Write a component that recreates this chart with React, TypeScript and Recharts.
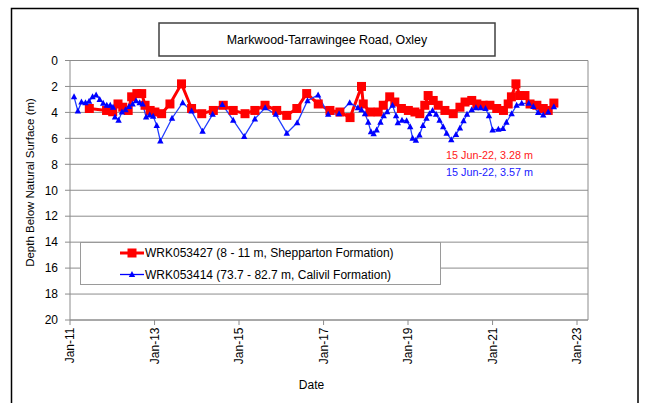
import React from 'react';
import { LineChart, Line, XAxis, YAxis, CartesianGrid, Legend, ReferenceLine } from 'recharts';

const ts = (s: string) => Date.parse(s + 'T00:00:00Z');

const chartTitle = 'Markwood-Tarrawingee Road, Oxley';
const redName = 'WRK053427 (8 - 11 m, Shepparton Formation)';
const blueName = 'WRK053414 (73.7 - 82.7 m, Calivil Formation)';
const redNote = '15 Jun-22, 3.28 m';
const blueNote = '15 Jun-22, 3.57 m';

const redDates = [
  '2011-06-17', '2011-11-13', '2012-01-05', '2012-02-20', '2012-04-01', '2012-05-18', '2012-06-17',
  '2012-08-01', '2012-09-12', '2012-10-11', '2012-11-24', '2013-01-04', '2013-03-03', '2013-05-14',
  '2013-08-22', '2013-11-17', '2014-02-13', '2014-05-24', '2014-08-18', '2014-11-12', '2015-02-22',
  '2015-05-18', '2015-08-14', '2015-11-23', '2016-02-18', '2016-05-15', '2016-08-08', '2016-11-16',
  '2017-02-25', '2017-05-22', '2017-08-18', '2017-11-25', '2017-12-10', '2018-02-06', '2018-04-18',
  '2018-06-01', '2018-07-27', '2018-09-09', '2018-11-05', '2019-01-04', '2019-03-02', '2019-04-13',
  '2019-05-26', '2019-06-24', '2019-08-07', '2019-09-19', '2019-11-16', '2020-01-27', '2020-03-25',
  '2020-05-08', '2020-07-05', '2020-08-18', '2020-10-12', '2020-12-09', '2021-02-06', '2021-04-05',
  '2021-05-16', '2021-06-13', '2021-07-22', '2021-08-25', '2021-10-08', '2021-11-21', '2022-01-19',
  '2022-03-15', '2022-04-27', '2022-06-15',
];
const redDepths = [
  3.7, 3.85, 3.95, 3.35, 3.6, 3.85, 2.8,
  2.55, 2.55, 3.45, 3.85, 3.97, 4.1, 3.35,
  1.8, 3.7, 4.1, 3.85, 3.45, 3.85, 4.1,
  3.85, 3.45, 3.85, 4.23, 3.7, 2.55, 3.35,
  3.85, 3.97, 4.4, 2.0, 3.35, 3.97, 3.97,
  3.45, 2.8, 3.2, 3.7, 3.85, 3.97, 4.1,
  3.45, 2.7, 3.08, 3.45, 3.85, 4.1, 3.6,
  3.2, 3.08, 3.35, 3.45, 3.45, 3.7, 3.85,
  3.35, 2.8, 1.8, 2.7, 2.7, 3.35, 3.45,
  3.7, 3.85, 3.28,
];

const blueDates = [
  '2011-02-05', '2011-03-10', '2011-04-10', '2011-05-15', '2011-06-15', '2011-07-15', '2011-08-15',
  '2011-09-15', '2011-10-15', '2011-11-15', '2011-12-15', '2012-01-08', '2012-01-25', '2012-02-25',
  '2012-03-25', '2012-04-25', '2012-05-25', '2012-06-25', '2012-07-25', '2012-08-25', '2012-09-20',
  '2012-10-20', '2012-11-20', '2012-12-20', '2013-01-20', '2013-02-20', '2013-06-01', '2013-09-01',
  '2013-11-17', '2014-02-20', '2014-05-18', '2014-08-10', '2014-11-12', '2015-02-15', '2015-05-18',
  '2015-08-15', '2015-11-15', '2016-02-18', '2016-05-18', '2016-08-15', '2016-11-15', '2017-02-10',
  '2017-05-15', '2017-08-15', '2017-10-25', '2017-11-25', '2017-12-25', '2018-01-22', '2018-02-15',
  '2018-03-10', '2018-04-05', '2018-05-08', '2018-06-05', '2018-07-05', '2018-08-20', '2018-09-20',
  '2018-10-05', '2018-11-10', '2018-12-20', '2019-01-20', '2019-02-10', '2019-03-10', '2019-04-10',
  '2019-05-10', '2019-06-10', '2019-07-05', '2019-08-01', '2019-09-01', '2019-10-01', '2019-11-01',
  '2019-12-01', '2020-01-10', '2020-02-20', '2020-03-25', '2020-04-25', '2020-05-25', '2020-07-05',
  '2020-08-10', '2020-09-20', '2020-11-01', '2020-12-01', '2021-01-01', '2021-02-20', '2021-04-01',
  '2021-05-01', '2021-06-15', '2021-07-28', '2021-09-10', '2021-11-10', '2021-12-20', '2022-01-30',
  '2022-03-15', '2022-04-27', '2022-06-15',
];
const blueDepths = [
  2.8, 3.9, 3.2, 3.25, 3.15, 2.8, 2.65,
  3.0, 3.3, 3.45, 3.45, 3.6, 4.35, 4.6,
  3.97, 3.8, 3.55, 3.35, 3.1, 3.25, 3.35,
  4.35, 4.2, 4.3, 5.0, 6.2, 4.45, 3.25,
  3.9, 5.45, 4.15, 3.4, 4.6, 5.85, 4.5,
  3.65, 4.15, 5.6, 4.8, 3.1, 2.65, 4.15,
  4.1, 3.25, 3.65, 3.8, 4.1, 4.75, 5.5,
  5.65, 5.35, 4.75, 4.25, 3.95, 3.45, 4.25,
  4.8, 4.6, 4.65, 5.1, 6.0, 6.15, 5.75,
  5.0, 4.45, 4.1, 3.85, 4.15, 4.6, 5.1,
  5.6, 6.1, 5.7, 5.2, 4.65, 4.15, 3.8,
  3.65, 3.65, 3.7, 4.25, 5.35, 5.3, 5.25,
  4.75, 4.1, 3.45, 3.3, 3.3, 3.55, 4.0,
  4.2, 3.97, 3.57,
];

const yTicks = [0, 2, 4, 6, 8, 10, 12, 14, 16, 18, 20];
const xTickYears = [2011, 2013, 2015, 2017, 2019, 2021, 2023];
const monthNames = ['Jan', 'Feb', 'Mar', 'Apr', 'May', 'Jun', 'Jul', 'Aug', 'Sep', 'Oct', 'Nov', 'Dec'];

const xMin = ts('2011-01-01');
const xMax = ts('2023-04-06');
const xTicks = xTickYears.map((y) => Date.UTC(y, 0, 1));

const redData = redDates.map((d, i) => ({ date: ts(d), depth: redDepths[i] }));
const blueData = blueDates.map((d, i) => ({ date: ts(d), depth: blueDepths[i] }));

const FONT = '"Liberation Sans", Arial, sans-serif';
const GRID = '#8c8c8c';

const fmtDate = (v: number) => {
  const d = new Date(v);
  return `${monthNames[d.getUTCMonth()]}-${String(d.getUTCFullYear()).slice(2)}`;
};

const XTick = (props: any) => {
  const { x, y, payload } = props;
  const bx = x + 4.3;
  const by = y + 0.5;
  return (
    <text x={bx} y={by} transform={`rotate(-90 ${bx} ${by})`} textAnchor="end" fontSize={12} fill="#000" fontFamily={FONT}>
      {fmtDate(payload.value)}
    </text>
  );
};

const RedSquare = (props: any) => {
  const { cx, cy } = props;
  if (cx == null || cy == null) return null;
  return <rect x={cx - 4.5} y={cy - 4.5} width={9} height={9} fill="#FF0000" stroke="none" />;
};

const BlueTriangle = (props: any) => {
  const { cx, cy } = props;
  if (cx == null || cy == null) return null;
  return <polygon points={`${cx},${cy - 3.5} ${cx - 3.2},${cy + 2.5} ${cx + 3.2},${cy + 2.5}`} fill="#0000FF" stroke="none" />;
};

const LegendBox = () => (
  <div style={{ width: 361, height: 43, boxSizing: 'border-box', border: '1px solid #9a9a9a', background: '#fff', position: 'relative' }}>
    <svg width={361} height={43} style={{ position: 'absolute', left: -1, top: -1 }}>
      <line x1={40} x2={64} y1={11} y2={11} stroke="#FF0000" strokeWidth={3} />
      <rect x={47.5} y={6.5} width={9} height={9} fill="#FF0000" />
      <text x={65} y={15.3} fontSize={12} fontFamily={FONT} fill="#000">{redName}</text>
      <line x1={40} x2={64} y1={32.5} y2={32.5} stroke="#0000FF" strokeWidth={1.3} />
      <polygon points="52,29 48.8,35 55.2,35" fill="#0000FF" />
      <text x={65} y={36.8} fontSize={12} fontFamily={FONT} fill="#000">{blueName}</text>
    </svg>
  </div>
);

export default function App() {
  return (
    <div style={{ position: 'absolute', left: 0, top: 0, width: 648, height: 403, fontFamily: FONT, background: '#fff', overflow: 'hidden' }}>
      <LineChart width={648} height={403} margin={{ top: 60.5, right: 60, left: 0, bottom: 0 }}>
        <CartesianGrid horizontal={true} vertical={false} stroke={GRID} strokeWidth={1} />
        <XAxis
          dataKey="date"
          type="number"
          scale="time"
          domain={[xMin, xMax]}
          ticks={xTicks}
          tick={<XTick />}
          tickSize={5}
          tickMargin={2}
          height={83}
          stroke={GRID}
          allowDataOverflow
          interval={0}
        />
        <YAxis
          type="number"
          domain={[0, 20]}
          reversed
          ticks={yTicks}
          width={70}
          tickSize={5}
          tickMargin={7}
          stroke={GRID}
          tick={{ fontSize: 12, fill: '#000', fontFamily: FONT }}
          interval={0}
        />
        <ReferenceLine x={xMax} stroke={GRID} strokeWidth={1} ifOverflow="visible" />
        <Line
          data={redData}
          dataKey="depth"
          name={redName}
          stroke="#FF0000"
          strokeWidth={3}
          dot={<RedSquare />}
          activeDot={false}
          isAnimationActive={false}
          type="linear"
        />
        <Line
          data={blueData}
          dataKey="depth"
          name={blueName}
          stroke="#1f3cff"
          strokeWidth={1.3}
          dot={<BlueTriangle />}
          activeDot={false}
          isAnimationActive={false}
          type="linear"
        />
        <Legend
          layout="horizontal"
          verticalAlign="middle"
          align="center"
          content={<LegendBox />}
          wrapperStyle={{ position: 'absolute', left: 80, top: 242, width: 361, height: 43 }}
        />
      </LineChart>
      <svg width={648} height={403} style={{ position: 'absolute', left: 0, top: 0, pointerEvents: 'none' }}>
        <rect x={11.5} y={8.5} width={626.5} height={420} fill="none" stroke="#000" strokeWidth={1.5} />
        <rect x={159} y={23} width={336} height={33} fill="#fff" stroke="#404040" strokeWidth={1.5} />
        <text x={327} y={44} textAnchor="middle" fontSize={12.4} fontFamily={FONT} fill="#000">{chartTitle}</text>
        <text x={34} y={182.5} transform="rotate(-90 34 182.5)" textAnchor="middle" fontSize={11.5} fontFamily={FONT} fill="#000">
          Depth Below Natural Surface (m)
        </text>
        <text x={311.5} y={389} textAnchor="middle" fontSize={12} fontFamily={FONT} fill="#000">Date</text>
        <text x={446} y={159} fontSize={10.8} fontFamily={FONT} fill="#FF2020">{redNote}</text>
        <text x={446} y={176} fontSize={10.8} fontFamily={FONT} fill="#2020FF">{blueNote}</text>
      </svg>
    </div>
  );
}
